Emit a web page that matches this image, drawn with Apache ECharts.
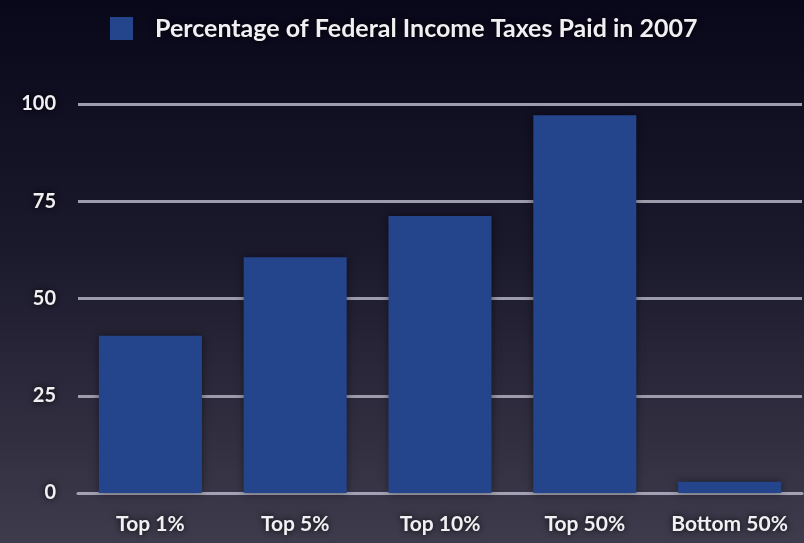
<!DOCTYPE html>
<html>
<head>
<meta charset="utf-8">
<script src="https://cdn.jsdelivr.net/npm/echarts@6/dist/echarts.min.js"></script>
<style>
  html, body { margin: 0; padding: 0; background: #0a0818; }
  #chart { width: 804px; height: 543px; }
</style>
</head>
<body>
<div id="chart"></div>
<script>
// Share of federal income taxes paid, 2007 (percent)
const seriesName = 'Percentage of Federal Income Taxes Paid in 2007';
const categories = ['Top 1%', 'Top 5%', 'Top 10%', 'Top 50%', 'Bottom 50%'];
const taxShare = [40.4, 60.6, 71.2, 97.1, 2.9];
const yTicks = [0, 25, 50, 75, 100];

const FONT = 'Lato, "Open Sans", sans-serif';
const textGlow = {
  color: '#f0f0f3',
  fontFamily: FONT,
  fontWeight: 'bold',
  textShadowColor: 'rgba(0,0,0,0.9)',
  textShadowBlur: 6
};

const chart = echarts.init(document.getElementById('chart'), null, { renderer: 'canvas' });
chart.setOption({
  animation: false,
  backgroundColor: {
    type: 'linear', x: 0, y: 0, x2: 0, y2: 1,
    colorStops: [
      { offset: 0, color: '#09071a' },
      { offset: 0.45, color: '#1a182b' },
      { offset: 1, color: '#3e3b4c' }
    ]
  },
  legend: {
    data: [seriesName],
    left: 105,
    top: 11,
    icon: 'rect',
    itemWidth: 23,
    itemHeight: 23,
    textStyle: Object.assign({}, textGlow, { fontSize: 25, padding: [0, 0, 0, 17] })
  },
  grid: { left: 78, right: 2, top: 104, bottom: 50, containLabel: false },
  xAxis: {
    type: 'category',
    data: categories,
    axisTick: { show: false },
    axisLine: { show: true, lineStyle: { color: '#a3a2b4', width: 3 } },
    axisLabel: Object.assign({}, textGlow, {
      fontSize: 21, margin: 21, interval: 0, hideOverlap: false
    })
  },
  yAxis: {
    type: 'value',
    min: yTicks[0],
    max: yTicks[yTicks.length - 1],
    interval: 25,
    axisLine: { show: false },
    axisTick: { show: false },
    splitLine: { lineStyle: { color: '#9d9cac', width: 3 } },
    axisLabel: Object.assign({}, textGlow, { fontSize: 20, margin: 22 })
  },
  series: [{
    name: seriesName,
    type: 'bar',
    data: taxShare,
    barWidth: 103,
    itemStyle: {
      color: '#24458c',
      shadowColor: 'rgba(0,0,0,0.45)',
      shadowBlur: 8
    }
  }]
});
</script>
</body>
</html>
